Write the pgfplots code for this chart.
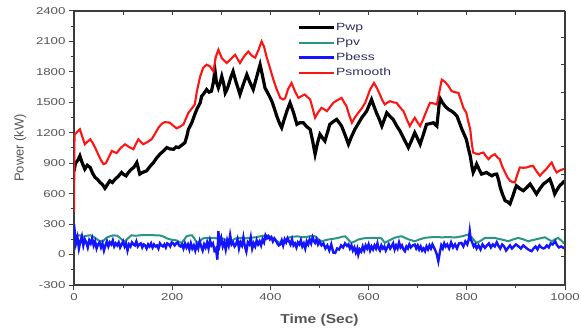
\documentclass[border=0pt]{standalone}
\usepackage{pgfplots}
\pgfplotsset{compat=1.18}
\usepackage{fontspec}
\setmainfont{Liberation Sans}
\newfontfamily\stretchfont[FakeStretch=1.33]{Liberation Sans}
\newfontfamily\labfont[FakeStretch=1.2]{Liberation Sans}
\definecolor{tickgray}{RGB}{85,85,85}
\definecolor{axgray}{RGB}{60,60,60}
\definecolor{legtext}{RGB}{45,45,95}
\definecolor{pvgreen}{RGB}{40,150,130}
\definecolor{bessblue}{RGB}{20,20,255}
\definecolor{smred}{RGB}{255,20,20}
\begin{document}
\begin{tikzpicture}
\path[use as bounding box] (-74bp,-51bp) rectangle (507bp,285bp);
\begin{axis}[
  at={(0,0)}, anchor=south west,
  scale only axis, width=491bp, height=274bp,
  xmin=0, xmax=1000, ymin=-300, ymax=2400,
  axis x line*=bottom, axis y line*=left,
  axis line style={axgray, line width=1.2bp, -},
  tick align=outside,
  xtick={0,200,400,600,800,1000},
  xticklabels={0,200,400,600,800,1000},
  ytick={-300,0,300,600,900,1200,1500,1800,2100,2400},
  yticklabels={-300,0,300,600,900,1200,1500,1800,2100,2400},
  minor x tick num=1, minor y tick num=1,
  major tick length=5bp, minor tick length=3bp,
  every tick/.style={axgray, line width=1bp},
  tick label style={font=\stretchfont\fontsize{10}{12}\selectfont, text=tickgray},
  xlabel={\textbf{Time (Sec)}},
  xlabel style={font=\labfont\fontsize{13}{15}\selectfont, text=tickgray, at={(axis description cs:0.5,0)}, anchor=north, yshift=-26bp},
  ylabel={Power (kW)},
  ylabel style={font=\fontsize{13}{15}\selectfont, text=tickgray, at={(axis description cs:-0.09,0.5)}, anchor=south, rotate=0},
  legend image code/.code={\draw[#1] (0bp,0bp) -- (35bp,0bp);},
  legend cell align=left,
  legend style={at={(rel axis cs:0.4536,0.962)}, anchor=north west, draw=none, fill=none,
    inner sep=0pt, font=\stretchfont\fontsize{10.5}{12}\selectfont, text=legtext,
    nodes={inner sep=1bp, text height=8bp, text depth=2bp}, row sep=3bp},
]
\addplot[black, line width=3.2bp] coordinates {
(0,820) (3,900) (8,930) (12,972) (17,900) (22,842) (27,880) (33,858) (38,800) (43,760)
(48,740) (53,711) (58,690) (63,653) (68,690) (73,727) (78,710) (84,744) (90,770) (97,809)
(101,790) (106,776) (111,810) (117,842) (122,860) (128,907) (131,850) (134,793) (140,810) (148,825)
(155,870) (162,907) (168,950) (175,989) (182,1020) (189,1054) (196,1040) (203,1038) (208,1060) (213,1054)
(220,1080) (226,1103) (230,1170) (233,1234) (240,1300) (246,1381) (251,1440) (257,1495) (260,1560) (265,1590)
(270,1626) (275,1600) (280,1610) (284,1700) (287,1822) (290,1700) (294,1642) (298,1700) (301,1756) (305,1680)
(308,1593) (311,1620) (314,1659) (319,1740) (324,1805) (330,1700) (334,1640) (338,1577) (345,1680) (352,1773)
(358,1700) (365,1626) (372,1750) (379,1871) (384,1760) (389,1642) (396,1580) (403,1511) (408,1440) (413,1364)
(418,1300) (423,1250) (428,1330) (434,1420) (440,1495) (447,1400) (454,1283) (460,1300) (467,1299) (474,1260)
(481,1234) (486,1120) (491,989) (496,1100) (501,1185) (506,1150) (511,1119) (516,1200) (521,1283) (528,1310)
(535,1332) (540,1300) (545,1266) (552,1180) (559,1087) (565,1160) (572,1234) (579,1290) (586,1348) (591,1380)
(596,1413) (601,1470) (606,1528) (611,1460) (616,1397) (622,1330) (627,1266) (632,1330) (637,1397) (644,1360)
(650,1332) (657,1270) (664,1217) (672,1140) (681,1054) (688,1130) (694,1201) (700,1140) (705,1087) (712,1190)
(718,1283) (725,1290) (732,1299) (739,1266) (742,1400) (745,1544) (750,1500) (756,1460) (763,1430) (769,1413)
(775,1390) (780,1364) (785,1300) (790,1234) (795,1180) (799,1136) (803,1050) (807,972) (810,880) (813,809)
(817,850) (820,891) (825,840) (830,793) (835,800) (840,809) (846,790) (851,776) (856,790) (861,793)
(865,730) (868,662) (873,590) (878,531) (883,520) (888,499) (891,540) (894,580) (898,640) (901,678)
(908,650) (915,629) (922,660) (929,695) (935,650) (942,597) (949,650) (956,695) (963,720) (969,744)
(974,680) (979,597) (984,640) (989,678) (994,700) (999,727)
};
\addlegendentry{Pwp}
\addplot[pvgreen, line width=2bp] coordinates {
(0,180) (5,190) (12,190) (18,175) (25,185) (33,190) (40,175) (47,150) (53,130) (60,135)
(66,165) (73,180) (80,190) (88,185) (95,160) (100,135) (104,130) (110,160) (117,190) (125,185)
(135,190) (145,192) (155,192) (165,190) (175,188) (182,178) (189,160) (199,145) (209,140) (214,125)
(219,115) (225,150) (229,180) (235,188) (240,190) (245,160) (250,115) (256,130) (263,160) (270,165)
(280,165) (290,160) (297,165) (305,155) (312,140) (318,130) (324,145) (330,160) (340,165) (350,160)
(360,165) (370,170) (380,180) (392,190) (400,175) (410,140) (420,115) (428,130) (435,165) (445,175)
(455,180) (465,170) (475,175) (485,185) (491,180) (498,150) (504,131) (511,140) (518,148) (528,155)
(538,164) (545,175) (552,180) (558,150) (565,115) (572,130) (579,148) (590,160) (606,165) (616,165)
(626,160) (633,115) (640,135) (653,165) (660,175) (667,180) (674,165) (681,150) (688,140) (694,131)
(704,150) (715,165) (725,170) (735,172) (750,170) (765,172) (776,168) (790,180) (803,197) (810,170)
(815,140) (820,115) (828,135) (837,164) (847,165) (857,164) (864,155) (871,148) (878,140) (884,131)
(895,150) (905,164) (915,150) (925,131) (932,140) (939,148) (950,160) (959,170) (966,150) (973,131)
(980,150) (986,164) (992,140) (997,115) (1000,110)
};
\addlegendentry{Ppv}
\addplot[bessblue, line width=2.4bp] coordinates {
(0,300) (2,200) (4,110) (7,170) (10,60) (13,130) (16,180) (19,90) (22,150) (25,120)
(28,70) (31,140) (34,110) (37,160) (40,90) (43,130) (46,60) (49,100) (52,120) (55,70)
(58,110) (61,40) (64,90) (67,130) (70,80) (73,120) (76,100) (79,140) (82,80) (85,110)
(88,90) (91,120) (94,70) (97,100) (100,130) (103,80) (106,110) (109,40) (112,100) (115,80)
(118,120) (121,100) (124,90) (127,130) (130,80) (133,100) (136,110) (139,70) (142,100) (145,90)
(148,60) (151,100) (154,80) (157,110) (160,70) (163,100) (166,80) (169,90) (172,60) (175,110)
(178,90) (181,80) (184,100) (187,70) (190,110) (193,100) (196,80) (199,120) (202,110) (205,90)
(208,110) (211,120) (214,90) (217,80) (220,100) (223,60) (226,110) (229,70) (232,100) (235,50)
(238,110) (241,60) (244,90) (247,40) (250,100) (253,60) (256,130) (259,80) (262,40) (265,100)
(268,70) (271,120) (274,60) (277,140) (280,90) (283,110) (286,40) (289,60) (292,-50) (294,230)
(297,100) (300,160) (303,80) (306,120) (309,50) (312,140) (315,90) (318,190) (321,100) (324,120)
(327,80) (330,100) (333,150) (336,60) (339,120) (342,90) (345,170) (348,80) (351,30) (354,120)
(357,100) (360,170) (363,60) (366,110) (369,80) (372,140) (375,100) (378,130) (381,90) (384,150)
(387,120) (390,190) (393,160) (396,180) (399,150) (402,170) (405,130) (408,160) (411,140) (414,110)
(417,90) (420,100) (423,140) (426,90) (429,150) (432,120) (435,160) (438,130) (441,100) (444,150)
(447,90) (450,110) (453,70) (456,120) (459,100) (462,140) (465,80) (468,110) (471,60) (474,130)
(477,100) (480,150) (483,110) (486,170) (489,130) (491,115) (494,150) (497,100) (500,130) (504,90)
(508,110) (512,60) (516,90) (520,40) (524,100) (528,20) (532,16) (536,60) (540,50) (544,90)
(548,70) (552,110) (556,85) (559,100) (562,60) (565,90) (568,40) (571,70) (574,20) (577,60)
(579,0) (582,50) (585,30) (588,80) (591,40) (594,90) (597,60) (600,100) (603,40) (606,80)
(609,50) (612,90) (615,60) (618,110) (620,66) (623,40) (626,90) (629,60) (632,80) (635,40)
(638,70) (641,100) (644,60) (647,82) (650,110) (653,50) (656,90) (659,60) (662,120) (665,70)
(668,90) (671,50) (674,33) (677,80) (680,60) (683,100) (686,70) (690,90) (694,98) (697,60)
(700,90) (703,50) (706,80) (709,40) (712,60) (715,33) (718,80) (721,50) (724,90) (727,60)
(730,100) (733,70) (736,40) (739,0) (742,-66) (745,20) (748,90) (751,60) (754,110) (757,80)
(760,100) (764,60) (768,120) (772,70) (776,100) (780,60) (784,110) (789,115) (793,80) (797,130)
(801,100) (804,150) (806,230) (808,150) (811,120) (814,80) (817,100) (820,60) (824,90) (828,50)
(832,100) (837,66) (841,90) (845,110) (849,70) (853,100) (857,80) (861,120) (864,90) (868,60)
(872,100) (876,80) (880,40) (884,66) (888,90) (892,60) (896,80) (900,100) (905,82) (910,60)
(915,90) (920,70) (925,50) (929,40) (932,33) (936,60) (940,80) (944,50) (948,90) (952,70)
(956,60) (959,66) (963,90) (967,70) (971,110) (975,100) (980,131) (984,90) (988,70) (992,80)
(997,66) (1000,60)
};
\addlegendentry{Pbess}
\addplot[smred, line width=2.1bp] coordinates {
(0,420) (1,1180) (5,1200) (12,1234) (17,1160) (22,1087) (27,1110) (33,1136) (38,1100) (43,1054)
(50,980) (55,930) (60,891) (65,900) (71,960) (77,1021) (82,1010) (87,1000) (95,1050) (104,1087)
(112,1060) (121,1038) (126,1090) (131,1136) (136,1110) (141,1087) (150,1110) (158,1136) (165,1190) (172,1250)
(179,1290) (185,1305) (195,1300) (202,1270) (209,1244) (216,1260) (223,1283) (228,1340) (233,1397) (240,1440)
(246,1479) (250,1600) (257,1756) (263,1838) (270,1871) (277,1854) (284,1805) (289,1950) (294,2018) (301,1936)
(311,1887) (320,1930) (328,1969) (334,1920) (338,1887) (346,1950) (355,2001) (362,1960) (369,1940) (376,2020)
(382,2100) (387,2050) (392,1952) (399,1840) (406,1724) (413,1626) (420,1544) (426,1528) (430,1540) (436,1630)
(443,1691) (450,1610) (457,1544) (463,1560) (470,1577) (476,1550) (481,1528) (486,1440) (491,1348) (497,1400)
(504,1446) (510,1430) (515,1413) (521,1450) (528,1495) (536,1520) (545,1544) (550,1500) (555,1462) (560,1380)
(566,1299) (572,1350) (579,1397) (586,1440) (593,1495) (598,1560) (603,1626) (611,1691) (617,1640) (623,1577)
(628,1520) (633,1479) (639,1500) (644,1511) (650,1500) (657,1495) (664,1450) (671,1413) (678,1330) (684,1266)
(689,1310) (694,1348) (700,1300) (705,1266) (710,1320) (715,1381) (720,1440) (725,1495) (732,1490) (739,1479)
(744,1600) (749,1724) (756,1700) (763,1659) (769,1610) (776,1600) (783,1593) (788,1520) (793,1446) (799,1397)
(803,1310) (807,1234) (810,1100) (813,1005) (818,995) (824,989) (829,1000) (834,1005) (839,970) (844,940)
(850,970) (857,989) (862,960) (867,940) (872,870) (878,809) (883,760) (888,727) (893,715) (898,711)
(903,790) (908,858) (915,855) (922,858) (929,870) (935,874) (942,820) (949,776) (955,810) (962,842)
(968,880) (973,907) (978,850) (983,809) (990,830) (997,842) (1000,840)
};
\addlegendentry{Psmooth}
\end{axis}
\begin{axis}[
  at={(0,0)}, anchor=south west,
  scale only axis, width=491bp, height=274bp,
  xmin=0, xmax=1000, ymin=-300, ymax=2400,
  axis x line*=top, axis y line*=right,
  axis line style={axgray, line width=1.2bp, -},
  tick align=inside,
  xtick={100,200,300,400,500,600,700,800,900},
  ytick={-20,250,520,790,1060,1330,1600,1870,2140},
  xticklabels={}, yticklabels={},
  major tick length=4bp,
  every tick/.style={axgray, line width=1bp},
]
\end{axis}
\end{tikzpicture}
\end{document}
